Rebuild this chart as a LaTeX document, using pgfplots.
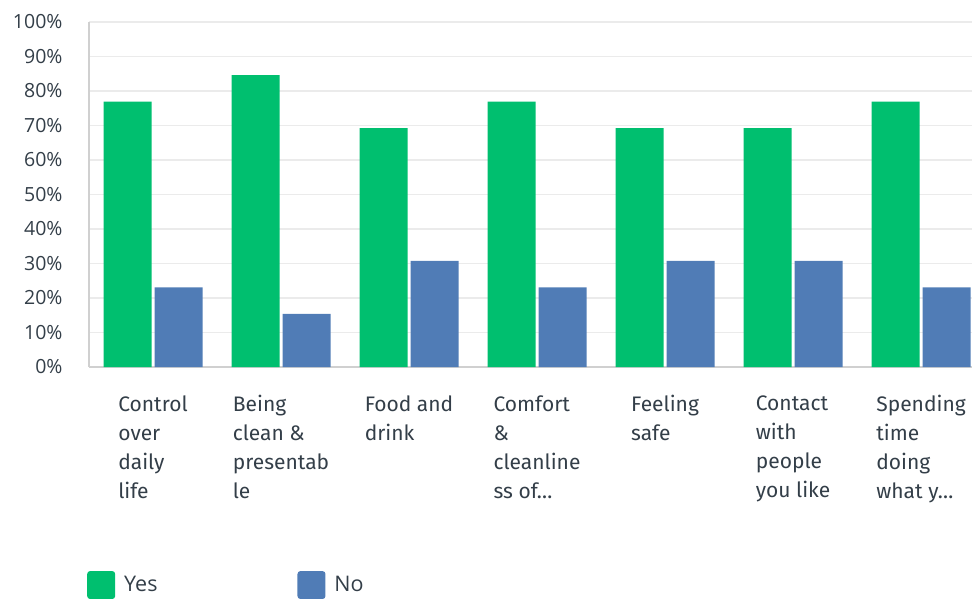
\documentclass[border=0pt]{standalone}
\usepackage{pgfplots}
\pgfplotsset{compat=1.18}
\usepackage{fontspec}
\setmainfont{Open Sans}
\newfontfamily\catfont{Fira Sans}
\definecolor{smgreen}{HTML}{00BF6F}
\definecolor{smblue}{HTML}{507CB6}
\definecolor{smtext}{HTML}{333E48}
\definecolor{smgrid}{HTML}{EBEBEB}
\definecolor{smaxis}{HTML}{D0D0D0}
\begin{document}
\begin{tikzpicture}
\begin{axis}[
  at={(0pt,0pt)}, anchor=south west,
  scale only axis,
  width=883pt, height=345pt,
  ybar=3pt, bar width=48pt,
  xmin=-0.5, xmax=6.398,
  ymin=0, ymax=100,
  ytick={0,10,...,100},
  yticklabel={\pgfmathprintnumber{\tick}\%},
  /pgf/number format/assume math mode=true,
  yticklabel style={font=\fontsize{19.5}{22}\selectfont, text=smtext, xshift=-23pt},
  xtick={0,...,6},
  xticklabels={{Control\\over\\daily\\life},{Being\\clean \&\\presentab\\le},{Food and\\drink},{Comfort\\\&\\cleanline\\ss of…},{Feeling\\safe},{Contact\\with\\people\\you like},{Spending\\time\\doing\\what y…}},
  xticklabel style={align=left, anchor=north, font=\catfont\fontsize{21}{29}\selectfont, text=smtext, yshift=-25pt},
  major tick length=0pt,
  ymajorgrids, grid style={smgrid, line width=1.5pt},
  axis x line*=bottom, axis y line*=left,
  axis line style={-, smaxis, line width=2pt},
  legend columns=2,
  legend style={at={(axis description cs:-0.00226,-0.632)}, anchor=west, draw=none, fill=none,
    font=\fontsize{21.5}{24}\selectfont, text=smtext, inner sep=0pt,
    /tikz/every even column/.append style={column sep=138pt}},
  legend cell align=left,
  legend image code/.code={\fill[#1, rounded corners=3pt] (0pt,-14pt) rectangle (28pt,14pt);},
  every axis plot/.append style={draw=none},
]
\addplot[fill=smgreen] coordinates {(0,76.92) (1,84.62) (2,69.23) (3,76.92) (4,69.23) (5,69.23) (6,76.92)};
\addplot[fill=smblue] coordinates {(0,23.08) (1,15.38) (2,30.77) (3,23.08) (4,30.77) (5,30.77) (6,23.08)};
\legend{\hspace{7pt}Yes, \hspace{7pt}No}
\end{axis}
\pgfresetboundingbox
\path (-89pt,-232pt) rectangle (883pt,367pt);
\end{tikzpicture}
\end{document}
